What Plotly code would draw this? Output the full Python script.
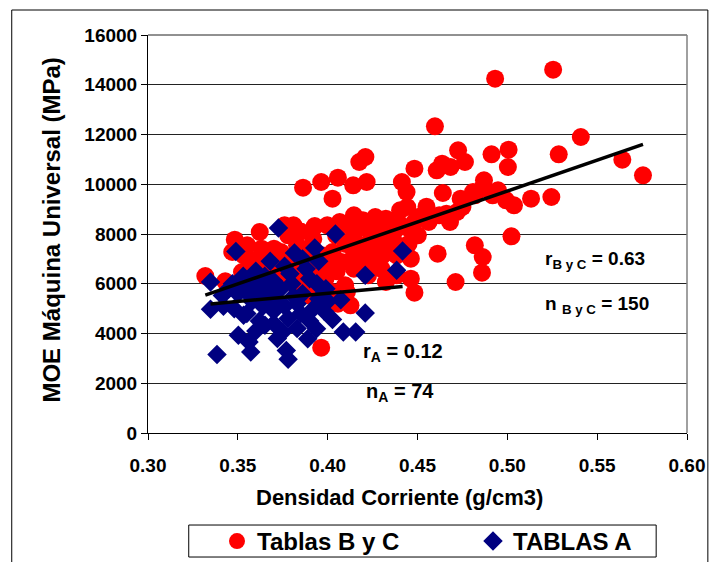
import plotly.graph_objects as go
import numpy as np

# Tablas B y C: densidad corriente (g/cm3) vs MOE (MPa)
bc_density = [
    0.4932, 0.5255, 0.4597, 0.5409, 0.5286, 0.5640, 0.5755, 0.4726, 0.4912, 0.5007,
    0.5003, 0.4483, 0.4607, 0.4637, 0.4684, 0.4764, 0.4176, 0.4210, 0.4413, 0.4439,
    0.4870, 0.3863, 0.3964, 0.4057, 0.4027, 0.4142, 0.4217, 0.4641, 0.4819, 0.4918,
    0.4993, 0.5037, 0.5132, 0.5245, 0.4681, 0.4750, 0.5023, 0.4612, 0.4819, 0.4863,
    0.4859, 0.4712, 0.4483, 0.3964, 0.3319, 0.3430, 0.3483, 0.3622, 0.3469, 0.3760,
    0.3780, 0.3928, 0.3998, 0.4116, 0.4196, 0.4265, 0.4324, 0.4403, 0.4443, 0.4502,
    0.4562, 0.4502, 0.4453, 0.4384, 0.4245, 0.4186, 0.4305, 0.4344, 0.4423, 0.4146,
    0.4077, 0.4027, 0.3968, 0.3889, 0.3830, 0.3701, 0.3632, 0.3552, 0.3572, 0.3612,
    0.3671, 0.3730, 0.3869, 0.3988, 0.4097, 0.4107, 0.4127, 0.4225, 0.4324, 0.4384,
    0.4463, 0.4265, 0.4206, 0.3790, 0.3948, 0.3523, 0.3572, 0.3612, 0.3533, 0.3859,
    0.3889, 0.3830, 0.4027, 0.4057, 0.4344, 0.4146, 0.4047, 0.4285, 0.4225, 0.4562,
    0.4661, 0.4720, 0.4809, 0.4740, 0.4384, 0.4463, 0.4305, 0.4146, 0.4067, 0.3810,
    0.3740, 0.3889, 0.3948, 0.3790, 0.4146, 0.4245, 0.4364, 0.4483, 0.4621, 0.4859,
    0.4948, 0.4200, 0.4100, 0.3920, 0.4350, 0.4450, 0.4050, 0.3700, 0.3800, 0.3600,
    0.3650, 0.3750, 0.3900, 0.4000, 0.4300, 0.4150, 0.4400, 0.4550, 0.4250, 0.3850,
]
bc_moe = [
    14244, 14606, 12328, 11900, 11202, 10988, 10358, 11363, 11202, 11390,
    10693, 10626, 10559, 10827, 10693, 10894, 10894, 11095, 10090, 9688,
    10157, 9862, 10090, 10264, 9420, 9956, 10090, 9648, 9554, 9554,
    9353, 9152, 9420, 9487, 8482, 9085, 7906, 7209, 7544, 7075,
    6445, 6070, 5641, 3430, 6311, 6097, 7772, 8080, 7276, 8348,
    7946, 8321, 8348, 8348, 8549, 8683, 8616, 8951, 9085, 8683,
    8616, 7946, 8214, 8214, 7946, 7544, 7678, 7276, 7410, 7142,
    6874, 7276, 7142, 7410, 7544, 7410, 7410, 7544, 6941, 6807,
    7142, 7008, 6606, 6204, 5936, 5668, 5132, 6338, 6070, 6338,
    6204, 6874, 6606, 6606, 6606, 6472, 5802, 5400, 7142, 6338,
    5534, 5802, 5668, 5199, 8348, 7946, 7946, 8348, 8214, 8482,
    8817, 8884, 9688, 9420, 7142, 7008, 7142, 8750, 8482, 8348,
    7276, 6874, 6338, 6204, 6606, 7142, 7812, 8482, 8750, 9822,
    9755, 7000, 7600, 7800, 8000, 7600, 6500, 6700, 6900, 6300,
    5900, 6200, 6000, 6800, 6600, 8100, 8400, 9100, 7300, 8100,
]

# Tablas A
a_density = [
    0.3348, 0.3348, 0.3414, 0.3489, 0.3726, 0.4043, 0.3815, 0.3928, 0.4417, 0.4384,
    0.4209, 0.4073, 0.4209, 0.4087, 0.4156, 0.4027, 0.3503, 0.3562, 0.3572, 0.3384,
    0.3770, 0.3780, 0.3889, 0.3938, 0.3750, 0.3651, 0.3532, 0.3600, 0.3650, 0.3700,
    0.3560, 0.3620, 0.3680, 0.3740, 0.3800, 0.3860, 0.3900, 0.3950, 0.3830, 0.3760,
    0.3700, 0.3640, 0.3580, 0.3500, 0.3450, 0.3420, 0.3480, 0.3550, 0.3620, 0.3700,
    0.3780, 0.3850, 0.3920, 0.3980, 0.3990, 0.3880, 0.3760, 0.3680, 0.3600, 0.3530,
    0.3900, 0.3830, 0.3720, 0.3600, 0.3660, 0.3810, 0.3940, 0.4000, 0.3710, 0.3570,
    0.3470, 0.3950, 0.3790, 0.3860,
]
a_moe = [
    6070, 4970, 5530, 7300, 8240, 8000, 7240, 7440, 7320, 6540,
    6340, 5360, 4820, 4060, 4060, 4560, 3930, 3660, 3260, 3160,
    3320, 2960, 3790, 4190, 4060, 4330, 4730, 6500, 6300, 6100,
    5900, 5700, 5500, 5800, 6000, 5600, 6200, 5400, 5200, 5100,
    4900, 5100, 5300, 5600, 5800, 5100, 5000, 4800, 4500, 4400,
    4600, 4800, 5000, 4900, 5800, 6600, 6700, 6900, 6200, 6300,
    4500, 4200, 3800, 4100, 5900, 5500, 6000, 5300, 5300, 5500,
    6000, 6900, 6400, 7000,
]

# Linear trend lines (intercept, slope)
bc_fit = (-2711.0, 24877.0)
a_fit = (2986.0, 6580.0)

x_ticks = [0.30, 0.35, 0.40, 0.45, 0.50, 0.55, 0.60]
y_ticks = [0, 2000, 4000, 6000, 8000, 10000, 12000, 14000, 16000]

FONT = "Arial, Liberation Sans, sans-serif"

fig = go.Figure()
fig.add_trace(go.Scatter(
    x=bc_density, y=bc_moe, mode="markers", name="Tablas B y C",
    marker=dict(symbol="circle", size=18, color="#FF0000", line=dict(width=0)),
))
fig.add_trace(go.Scatter(
    x=a_density, y=a_moe, mode="markers", name="TABLAS A",
    marker=dict(symbol="diamond", size=15, color="#000080", line=dict(width=0)),
))

for xs, fit in ((bc_density, bc_fit), (a_density, a_fit)):
    lx = np.array([min(xs), max(xs)])
    fig.add_trace(go.Scatter(
        x=lx, y=fit[0] + fit[1] * lx, mode="lines", showlegend=False,
        line=dict(color="black", width=3.5), hoverinfo="skip",
    ))

tick_font = dict(family=FONT, size=19, color="black", weight="bold")
fig.update_xaxes(
    range=[0.30, 0.60], tickvals=x_ticks, ticktext=[f"{v:.2f}" for v in x_ticks],
    showline=True, linecolor="black", linewidth=1, ticks="outside", ticklen=6,
    tickcolor="black", showgrid=False, zeroline=False, tickfont=tick_font,
    ticklabelstandoff=9,
)
fig.update_yaxes(
    range=[0, 16000], tickvals=y_ticks, ticktext=[str(v) for v in y_ticks],
    showline=True, linecolor="black", linewidth=1, ticks="outside", ticklen=6,
    tickcolor="black", showgrid=True, gridcolor="#222222", gridwidth=1,
    zeroline=False, tickfont=tick_font,
)

shapes = [
    # plot frame: top and right edges
    dict(type="line", xref="paper", yref="paper", x0=0, x1=1, y0=1, y1=1,
         line=dict(color="#222222", width=1)),
    dict(type="line", xref="paper", yref="paper", x0=1, x1=1, y0=0, y1=1,
         line=dict(color="#808080", width=1.5)),
    # outer chart border
    dict(type="rect", xref="paper", yref="paper", x0=-0.2528, x1=1.0387,
         y0=-0.3317, y1=1.0628, line=dict(color="black", width=1)),
    # legend box
    dict(type="rect", xref="paper", yref="paper", x0=0.0756, x1=0.9428,
         y0=-0.3116, y1=-0.2312, line=dict(color="black", width=1),
         fillcolor="white", layer="below"),
]

ann_font = dict(family=FONT, size=19, color="black", weight="bold")
annotations = [
    dict(text="r<sub>B y C</sub> = 0.63", x=0.5198, y=6955, xref="x", yref="y",
         xanchor="left", yanchor="middle", showarrow=False, font=ann_font),
    dict(text="n <sub>B y C</sub> = 150", x=0.5198, y=5146, xref="x", yref="y",
         xanchor="left", yanchor="middle", showarrow=False, font=ann_font),
    dict(text="r<sub>A</sub> = 0.12", x=0.4185, y=3256, xref="x", yref="y",
         xanchor="left", yanchor="middle", showarrow=False,
         font=dict(family=FONT, size=20, color="black", weight="bold")),
    dict(text="n<sub>A</sub> = 74", x=0.4200, y=1648, xref="x", yref="y",
         xanchor="left", yanchor="middle", showarrow=False,
         font=dict(family=FONT, size=20, color="black", weight="bold")),
    dict(text="Densidad Corriente (g/cm3)", x=0.4668, y=-0.1633, xref="paper",
         yref="paper", xanchor="center", yanchor="middle", showarrow=False,
         font=dict(family=FONT, size=22, color="black", weight="bold")),
    dict(text="MOE Máquina Universal (MPa)", x=-0.1790, y=0.51, xref="paper",
         yref="paper", xanchor="center", yanchor="middle", showarrow=False,
         textangle=-90,
         font=dict(family=FONT, size=24, color="black", weight="bold")),
]

fig.update_layout(
    width=717, height=562, autosize=False,
    margin=dict(l=148, r=27, t=35, b=129),
    paper_bgcolor="white", plot_bgcolor="white",
    shapes=shapes, annotations=annotations,
    showlegend=True,
    legend=dict(
        orientation="h", xref="container", yref="container",
        x=217 / 717, y=1 - 519 / 562, xanchor="left", yanchor="top",
        bgcolor="rgba(0,0,0,0)", borderwidth=0,
        entrywidth=211, entrywidthmode="pixels",
        font=dict(family=FONT, size=24, color="black", weight="bold"),
        itemsizing="trace",
    ),
)

fig.write_html("out.html")
